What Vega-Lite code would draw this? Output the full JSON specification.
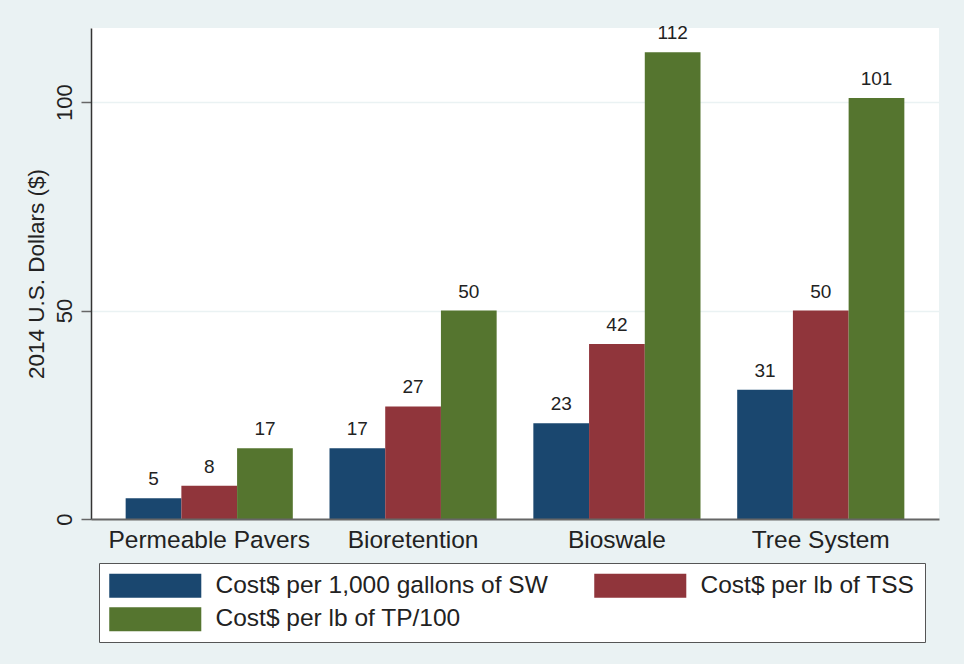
{
  "$schema": "https://vega.github.io/schema/vega-lite/v6.json",
  "width": 848,
  "height": 491,
  "autosize": {"type": "none"},
  "padding": {"left": 91, "top": 28, "right": 25, "bottom": 145},
  "background": "#EAF2F3",
  "config": {
    "view": {"stroke": null, "fill": "white"},
    "font": "Liberation Sans",
    "text": {"font": "Liberation Sans"}
  },
  "data": {
    "values": [
      {"system": "Permeable Pavers", "measure": "Cost$ per 1,000 gallons of SW", "value": 5},
      {"system": "Permeable Pavers", "measure": "Cost$ per lb of TSS", "value": 8},
      {"system": "Permeable Pavers", "measure": "Cost$ per lb of TP/100", "value": 17},
      {"system": "Bioretention", "measure": "Cost$ per 1,000 gallons of SW", "value": 17},
      {"system": "Bioretention", "measure": "Cost$ per lb of TSS", "value": 27},
      {"system": "Bioretention", "measure": "Cost$ per lb of TP/100", "value": 50},
      {"system": "Bioswale", "measure": "Cost$ per 1,000 gallons of SW", "value": 23},
      {"system": "Bioswale", "measure": "Cost$ per lb of TSS", "value": 42},
      {"system": "Bioswale", "measure": "Cost$ per lb of TP/100", "value": 112},
      {"system": "Tree System", "measure": "Cost$ per 1,000 gallons of SW", "value": 31},
      {"system": "Tree System", "measure": "Cost$ per lb of TSS", "value": 50},
      {"system": "Tree System", "measure": "Cost$ per lb of TP/100", "value": 101}
    ]
  },
  "encoding": {
    "x": {
      "field": "system",
      "type": "nominal",
      "sort": ["Permeable Pavers", "Bioretention", "Bioswale", "Tree System"],
      "scale": {"paddingInner": 0.18, "paddingOuter": 0.17},
      "axis": {
        "title": null,
        "labelAngle": 0,
        "labelFontSize": 24.5,
        "labelColor": "#222",
        "labelPadding": 9,
        "labelLimit": 0,
        "ticks": false,
        "domain": true,
        "domainColor": "#666",
        "domainWidth": 2,
        "zindex": 1
      }
    },
    "xOffset": {
      "field": "measure",
      "sort": ["Cost$ per 1,000 gallons of SW", "Cost$ per lb of TSS", "Cost$ per lb of TP/100"],
      "scale": {"paddingInner": 0, "paddingOuter": 0}
    },
    "y": {
      "field": "value",
      "type": "quantitative",
      "scale": {"domain": [0, 117.8], "nice": false},
      "axis": {
        "title": "2014 U.S. Dollars ($)",
        "titleFontSize": 22.5,
        "titleFontWeight": "normal",
        "titleColor": "#222",
        "titlePadding": 5,
        "values": [0, 50, 100],
        "labelAngle": -90,
        "labelFont": "Liberation Sans",
        "labelFontSize": 22,
        "labelColor": "#222",
        "labelPadding": 5,
        "tickSize": 10,
        "tickColor": "#666",
        "tickWidth": 1.5,
        "domainColor": "#333",
        "domainWidth": 1.5,
        "grid": true,
        "gridColor": "#EAF2F3",
        "gridWidth": 1.5
      }
    }
  },
  "layer": [
    {
      "mark": {"type": "bar", "opacity": 1},
      "encoding": {
        "color": {
          "field": "measure",
          "type": "nominal",
          "scale": {
            "domain": ["Cost$ per 1,000 gallons of SW", "Cost$ per lb of TSS", "Cost$ per lb of TP/100"],
            "range": ["#1A476F", "#90353B", "#55752F"]
          },
          "legend": {
            "orient": "none",
            "legendX": 8,
            "legendY": 535,
            "columns": 2,
            "direction": "horizontal",
            "title": null,
            "symbolType": "M-1,-1H6.67V1H-1Z",
            "symbolSize": 576,
            "symbolStrokeWidth": 0,
            "symbolOpacity": 1,
            "labelOffset": 82,
            "labelFontSize": 24.5,
            "labelColor": "#222",
            "labelLimit": 0,
            "columnPadding": 46,
            "rowPadding": 8,
            "padding": 10,
            "fillColor": "white",
            "strokeColor": "#555"
          }
        }
      }
    },
    {
      "mark": {"type": "text", "baseline": "bottom", "dy": -9, "fontSize": 19, "color": "#222"},
      "encoding": {"text": {"field": "value", "type": "quantitative"}}
    }
  ]
}
